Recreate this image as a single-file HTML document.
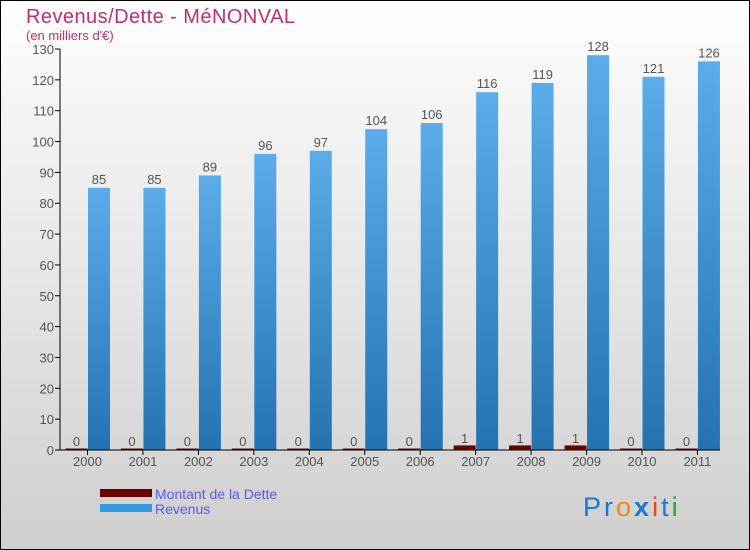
<!DOCTYPE html>
<html><head><meta charset="utf-8"><style>
body{margin:0}
#c{position:relative;width:750px;height:550px;box-sizing:border-box;border:1px solid #000;background:linear-gradient(#fff,#f4f4f4 20%,#d6d6d6 85%,#cfcfcf);font-family:"Liberation Sans",sans-serif;overflow:hidden}
</style></head><body>
<div id="c">
<svg width="750" height="550" style="position:absolute;left:-1px;top:-1px" id="svg">
<defs><linearGradient id="bl" x1="0" y1="0" x2="0" y2="1"><stop offset="0" stop-color="#5cacea"/><stop offset="1" stop-color="#2472b0"/></linearGradient></defs>
<text x="26" y="23" font-size="20" fill="#c0306a" textLength="269">Revenus/Dette - MéNONVAL</text>
<text x="26" y="40" font-size="13" fill="#c0306a">(en milliers d'€)</text>
<g id="g"></g>
<rect x="100" y="489" width="52" height="8" fill="#6a0000"/>
<text x="155" y="499" font-size="14" fill="#5a5aee">Montant de la Dette</text>
<rect x="100" y="504" width="52" height="8" fill="#3399e0"/>
<text x="155" y="514" font-size="14" fill="#5a5aee">Revenus</text>
<text x="583" y="516" font-size="27" letter-spacing="3" font-family="'Liberation Sans',sans-serif"><tspan fill="#1a7ad0">Pr</tspan><tspan fill="#f08a10">o</tspan><tspan fill="#1a7ad0" font-weight="bold">x</tspan><tspan fill="#f04010">i</tspan><tspan fill="#1a7ad0">t</tspan><tspan fill="#30a030">i</tspan></text>
</svg>
</div>
<script>
const years=["2000","2001","2002","2003","2004","2005","2006","2007","2008","2009","2010","2011"];
const dette=[0,0,0,0,0,0,0,1,1,1,0,0];
const revenus=[85,85,89,96,97,104,106,116,119,128,121,126];
const ticks=[0,10,20,30,40,50,60,70,80,90,100,110,120,130];
const NS="http://www.w3.org/2000/svg",g=document.getElementById('g');
const y=v=>450-v*401/130, xc=i=>87.5+i*55.45;
function mk(t,a,txt){const e=document.createElementNS(NS,t);for(const k in a)e.setAttribute(k,a[k]);if(txt!=null)e.textContent=txt;g.appendChild(e);return e;}
ticks.forEach(t=>{
 const l=mk('line',{x1:55,x2:60,y1:y(t),y2:y(t),stroke:'#000'});
 
 
 const tx=mk('text',{x:54,y:y(t)+5,'text-anchor':'end','font-size':13,fill:'#555'},t);
 
 
});
years.forEach((yr,i)=>{
 const c=xc(i);
 const d=mk('rect',{x:c-22,y:y(dette[i])-1.5,width:22,height:450-y(dette[i])+1.5,fill:'#6a0000'});
 
 
 const r=mk('rect',{x:c+0.5,y:y(revenus[i]),width:22,height:450-y(revenus[i]),fill:'url(#bl)'});
 
 
 const dl=mk('text',{x:c-11,y:y(dette[i])-4,'text-anchor':'middle','font-size':13,fill:'#555'},dette[i]);
 
 
 const rl=mk('text',{x:c+11.5,y:y(revenus[i])-4,'text-anchor':'middle','font-size':13,fill:'#555'},revenus[i]);
 
 
 const tk=mk('line',{x1:c,x2:c,y1:450,y2:455,stroke:'#000'});
 
 
 const xl=mk('text',{x:c,y:466,'text-anchor':'middle','font-size':13,fill:'#555'},yr);
 
 
});
const ya=mk('line',{x1:60,x2:60,y1:49,y2:450,stroke:'#000'});


const xa=mk('line',{x1:60,x2:720,y1:450,y2:450,stroke:'#000'});


</script>
</body></html>
